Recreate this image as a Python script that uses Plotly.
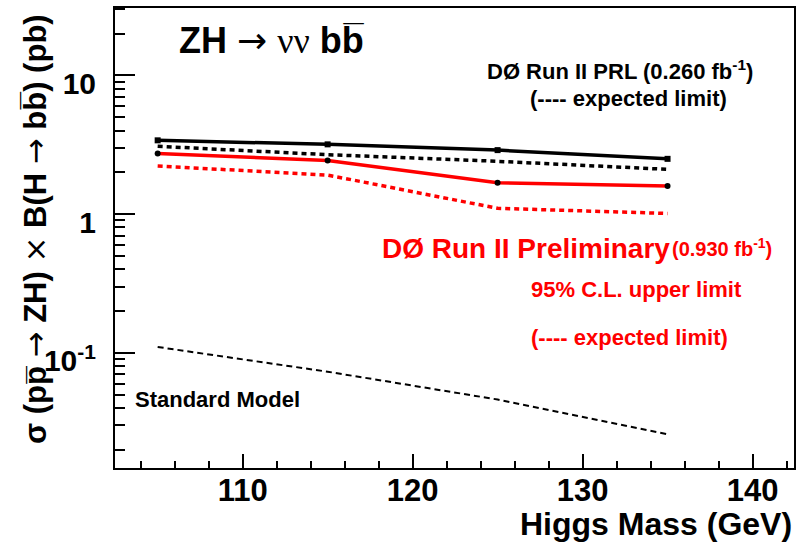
import plotly.graph_objects as go

# Higgs mass points (GeV)
mass = [105, 115, 125, 135]

# 95% C.L. upper limits on sigma(ppbar->ZH) x B(H->bb) in pb
prl_observed = [3.40, 3.18, 2.89, 2.50]      # DØ Run II PRL, 0.260 fb^-1
prl_expected = [3.08, 2.68, 2.40, 2.10]
prelim_observed = [2.73, 2.43, 1.68, 1.59]   # DØ Run II Preliminary, 0.930 fb^-1
prelim_expected = [2.22, 1.91, 1.10, 1.01]
sm_xsec = [0.110, 0.073, 0.046, 0.0258]      # Standard Model prediction

x_major = [110, 120, 130, 140]
x_minor = [104, 106, 108, 112, 114, 116, 118, 122, 124, 126, 128, 132, 134, 136, 138, 142]
y_major = [0.1, 1, 10]
y_major_text = ["10<sup>-1</sup>", "1", "10"]
y_minor = [k * 10.0 ** e for e in (-2, -1, 0, 1) for k in range(2, 10)]

W, H = 802, 542
L, R, T, B = 115, 7, 6, 74
PW, PH = W - L - R, H - T - B


def px(x):
    return (x - L) / PW


def py(y):
    return (H - B - y) / PH


FONT = "Liberation Sans, Arial, Helvetica, sans-serif"
RED = "#ff0000"
ARROW = "<span style='font-family:DejaVu Sans;font-weight:normal'>→</span>"
TIMES = "<span style='font-family:DejaVu Sans;font-weight:normal'>×</span>"

fig = go.Figure()

fig.add_trace(go.Scatter(
    x=mass, y=sm_xsec, mode="lines",
    line=dict(color="black", width=2, dash="6px,4px"), showlegend=False))
fig.add_trace(go.Scatter(
    x=mass, y=prl_expected, mode="lines",
    line=dict(color="black", width=3.5, dash="5px,4px"), showlegend=False))
fig.add_trace(go.Scatter(
    x=mass, y=prelim_expected, mode="lines",
    line=dict(color=RED, width=3.5, dash="5px,4px"), showlegend=False))
fig.add_trace(go.Scatter(
    x=mass, y=prl_observed, mode="lines+markers",
    line=dict(color="black", width=3.5),
    marker=dict(color="black", size=6, symbol="square"), showlegend=False))
fig.add_trace(go.Scatter(
    x=mass, y=prelim_observed, mode="lines+markers",
    line=dict(color=RED, width=3.5),
    marker=dict(color="black", size=6, symbol="circle"), showlegend=False))


def label(text, x, y, size, color="black", anchor="left"):
    fig.add_annotation(
        x=px(x), y=py(y), xref="paper", yref="paper",
        xanchor=anchor, yanchor="middle", showarrow=False,
        text=text, font=dict(family=FONT, size=size, color=color))


label("<b>ZH</b> " + ARROW + " <span style='font-family:Liberation Serif'>νν</span> <b>bb\u0305</b>",
      177, 39, 36)
label("<b>DØ Run II PRL (0.260 fb<sup>-1</sup>)</b>", 486, 68, 22)
label("<b>(---- expected limit)</b>", 529, 97, 22)
label("<b>DØ Run II Preliminary</b>", 380, 248, 28, RED)
label("<b>(0.930 fb<sup>-1</sup>)</b>", 671, 247, 20, RED)
label("<b>95% C.L. upper limit</b>", 530, 289, 22, RED)
label("<b>(---- expected limit)</b>", 530, 337, 22, RED)
label("<b>Standard Model</b>", 133, 399, 22)

# axis titles
fig.add_annotation(
    x=px(795), y=py(524), xref="paper", yref="paper",
    xanchor="right", yanchor="middle", showarrow=False,
    text="<b>Higgs Mass (GeV)</b>", font=dict(family=FONT, size=32, color="black"))
fig.add_annotation(
    x=px(35), y=py(10), xref="paper", yref="paper",
    xanchor="center", yanchor="top", showarrow=False, textangle=-90,
    text=("<b>σ (pp\u0305 </b>" + ARROW + "<b> ZH) </b>" + TIMES
          + "<b> B(H </b>" + ARROW + "<b> bb\u0305) (pb)</b>"),
    font=dict(family=FONT, size=31, color="black"))

fig.update_xaxes(
    range=[102.49, 142.44], showgrid=False, zeroline=False,
    showline=True, mirror=True, linecolor="black", linewidth=2,
    ticks="inside", ticklen=14, tickwidth=1.5, tickcolor="black",
    tickvals=x_major, ticktext=[str(v) for v in x_major],
    ticklabelstandoff=-6,
    tickfont=dict(family=FONT, size=31, color="black", weight="bold"),
    minor=dict(tickvals=x_minor, ticks="inside", ticklen=7, tickwidth=1.5,
               tickcolor="black", showgrid=False))
fig.update_yaxes(
    type="log", range=[-1.831, 1.4856], showgrid=False, zeroline=False,
    showline=True, mirror=True, linecolor="black", linewidth=2,
    ticks="inside", ticklen=20, tickwidth=1.5, tickcolor="black",
    tickvals=y_major, ticktext=y_major_text,
    ticklabelstandoff=11, ticklabelshift=8,
    tickfont=dict(family=FONT, size=30, color="black", weight="bold"),
    minor=dict(tickvals=y_minor, ticks="inside", ticklen=10, tickwidth=1.5,
               tickcolor="black", showgrid=False))

fig.update_layout(
    width=W, height=H, autosize=False,
    margin=dict(l=L, r=R, t=T, b=B),
    paper_bgcolor="white", plot_bgcolor="white",
    font=dict(family=FONT, color="black"))

fig.write_html("out.html")
